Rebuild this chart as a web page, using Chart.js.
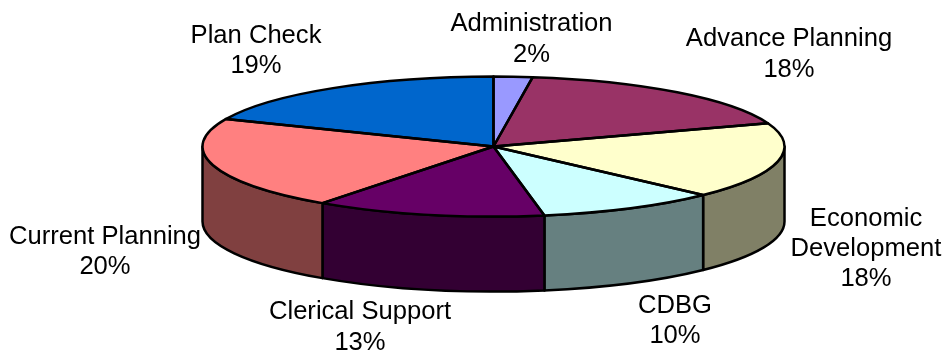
<!DOCTYPE html>
<html>
<head>
<meta charset="utf-8">
<style>
  html, body { margin: 0; padding: 0; background: #fff; }
  #wrap { width: 948px; height: 354px; }
</style>
<script src="https://cdn.jsdelivr.net/npm/chart.js@4"></script>
</head>
<body>
<div id="wrap"><canvas id="chart" width="948" height="354"></canvas></div>
<script>
const categories = ['Administration', 'Advance Planning', 'Economic Development', 'CDBG', 'Clerical Support', 'Current Planning', 'Plan Check'];
// printed on the chart
const percentLabels = ['2%', '18%', '18%', '10%', '13%', '20%', '19%'];
// slice sizes as drawn: measured off the rim, the old 3D pie doesn't quite follow its own labels
const sliceShares = [2.15, 17.45, 17.6, 10, 12.8, 21.4, 18.6];
const topColors = ['#9999FF', '#993366', '#FFFFCC', '#CCFFFF', '#660066', '#FF8080', '#0066CC'];
const wallColors = ['#4D4D80', '#4D1A33', '#808066', '#668080', '#330033', '#804040', '#003366'];

// x centre, then y of each line, hand placed around the pie
const labelLines = [
    ['Administration'],
    ['Advance Planning'],
    ['Economic', 'Development'],
    ['CDBG'],
    ['Clerical Support'],
    ['Current Planning'],
    ['Plan Check']
];
const labelSpots = [
    [531.5, 24, 55], [789, 39, 70], [866, 219, 249, 279], [675, 306, 336],
    [360, 312, 343], [105, 237, 267], [256, 36, 66]
];

// the tilted pie: screen centre, ellipse radii and wall height
const tilt = { cx: 493.5, cy: 146.5, rx: 291, ry: 70, depth: 75 };

// squash the library's round pie to the ellipse on screen
function toEllipse(ctx, arc) {
    ctx.translate(tilt.cx, tilt.cy);
    ctx.scale(tilt.rx / arc.outerRadius, tilt.ry / arc.outerRadius);
    ctx.translate(-arc.x, -arc.y);
}

const tiltedPie = {
    id: 'tiltedPie',
    beforeDatasetsDraw(chart) {
        const ctx = chart.ctx;
        const arcs = chart.getDatasetMeta(0).data;
        ctx.save();
        ctx.lineWidth = 2.5;
        ctx.strokeStyle = '#000';
        ctx.lineJoin = 'round';
        // walls first, only the front half of the rim shows
        arcs.forEach((arc, i) => {
            const a = Math.max(arc.startAngle, 0);
            const b = Math.min(arc.endAngle, Math.PI);
            if (b <= a) return;
            ctx.beginPath();
            ctx.ellipse(tilt.cx, tilt.cy, tilt.rx, tilt.ry, 0, a, b);
            ctx.ellipse(tilt.cx, tilt.cy + tilt.depth, tilt.rx, tilt.ry, 0, b, a, true);
            ctx.closePath();
            ctx.fillStyle = wallColors[i];
            ctx.fill();
            ctx.stroke();
        });
        ctx.save();
        toEllipse(ctx, arcs[0]);
    },
    afterDatasetsDraw(chart) {
        const ctx = chart.ctx;
        const arcs = chart.getDatasetMeta(0).data;
        ctx.restore();
        // outlines in screen space so the pen stays even
        arcs.forEach(arc => {
            ctx.save();
            toEllipse(ctx, arc);
            ctx.beginPath();
            ctx.moveTo(arc.x, arc.y);
            ctx.arc(arc.x, arc.y, arc.outerRadius, arc.startAngle, arc.endAngle);
            ctx.closePath();
            ctx.restore();
            ctx.stroke();
        });
        ctx.restore();

        ctx.save();
        ctx.fillStyle = '#000';
        ctx.font = '25.6px "Liberation Sans", Arial, sans-serif';
        ctx.textAlign = 'center';
        ctx.textBaseline = 'middle';
        labelLines.forEach((lines, i) => {
            [...lines, percentLabels[i]].forEach((line, j) => {
                ctx.fillText(line, labelSpots[i][0], labelSpots[i][j + 1]);
            });
        });
        ctx.restore();
    }
};

new Chart(document.getElementById('chart'), {
    type: 'pie',
    data: {
        labels: categories,
        datasets: [{
            data: sliceShares,
            backgroundColor: topColors,
            borderWidth: 0,
            clip: false
        }]
    },
    options: {
        responsive: false,
        animation: false,
        layout: { padding: 0 },
        plugins: { legend: { display: false }, tooltip: { enabled: false } }
    },
    plugins: [tiltedPie]
});
</script>
</body>
</html>
